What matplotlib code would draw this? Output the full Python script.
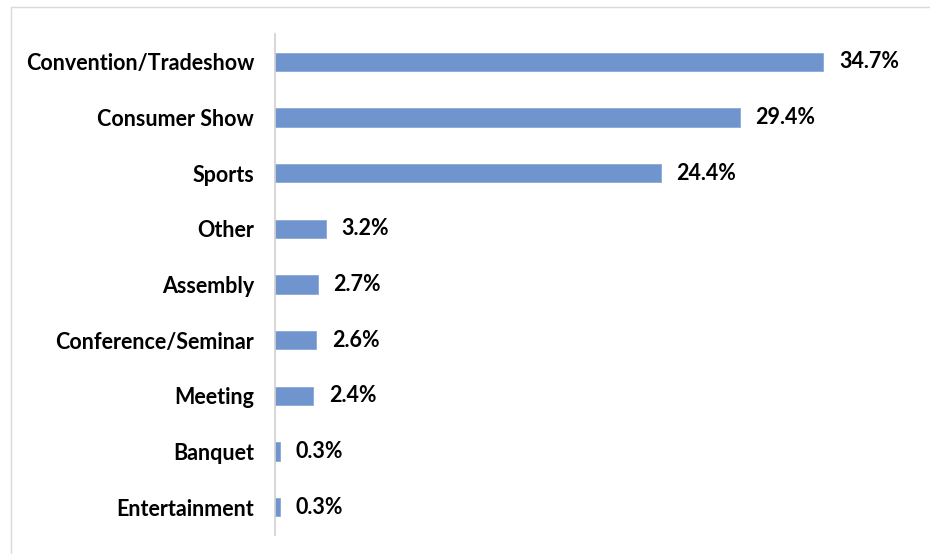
import matplotlib
matplotlib.use("Agg")
import matplotlib.pyplot as plt
from matplotlib.patches import Rectangle

categories = ["Convention/Tradeshow", "Consumer Show", "Sports", "Other", "Assembly",
              "Conference/Seminar", "Meeting", "Banquet", "Entertainment"]
values = [34.7, 29.4, 24.4, 3.2, 2.7, 2.6, 2.4, 0.3, 0.3]
value_labels = ["34.7%", "29.4%", "24.4%", "3.2%", "2.7%", "2.6%", "2.4%", "0.3%", "0.3%"]

plt.rcParams['font.family'] = ['Lato', 'DejaVu Sans']

W, H = 930, 554
fig = plt.figure(figsize=(W / 100, H / 100), dpi=100)

# outer chart border (partially visible)
fig.patches.append(Rectangle((11 / W, -0.1), 1.2, (H - 7) / H + 0.1, transform=fig.transFigure,
                             fill=False, edgecolor="#D9D9D9", linewidth=1.0))

ax = fig.add_axes([275 / W, (H - 535) / H, 625 / W, (535 - 34) / H])
y = list(range(len(categories)))
ax.barh(y, values, height=0.33, color="#7094CD", edgecolor="#8AA8D8", linewidth=0.6)
ax.set_ylim(len(categories) - 0.5, -0.5)
ax.set_xlim(0, 625 / 15.8)

for yi, v, lab in zip(y, values, value_labels):
    ax.text(v + 1.0, yi, lab, va="center", ha="left", fontsize=15.5, fontweight="bold", color="#000000")

ax.set_yticks(y)
ax.set_yticklabels(categories, fontsize=15.5, fontweight="bold")
ax.tick_params(axis="y", length=0, pad=15)
ax.set_xticks([])
for s in ["top", "right", "bottom"]:
    ax.spines[s].set_visible(False)
ax.spines["left"].set_color("#D0D0D0")
ax.spines["left"].set_linewidth(1.2)

fig.savefig("out.png", dpi=100)
